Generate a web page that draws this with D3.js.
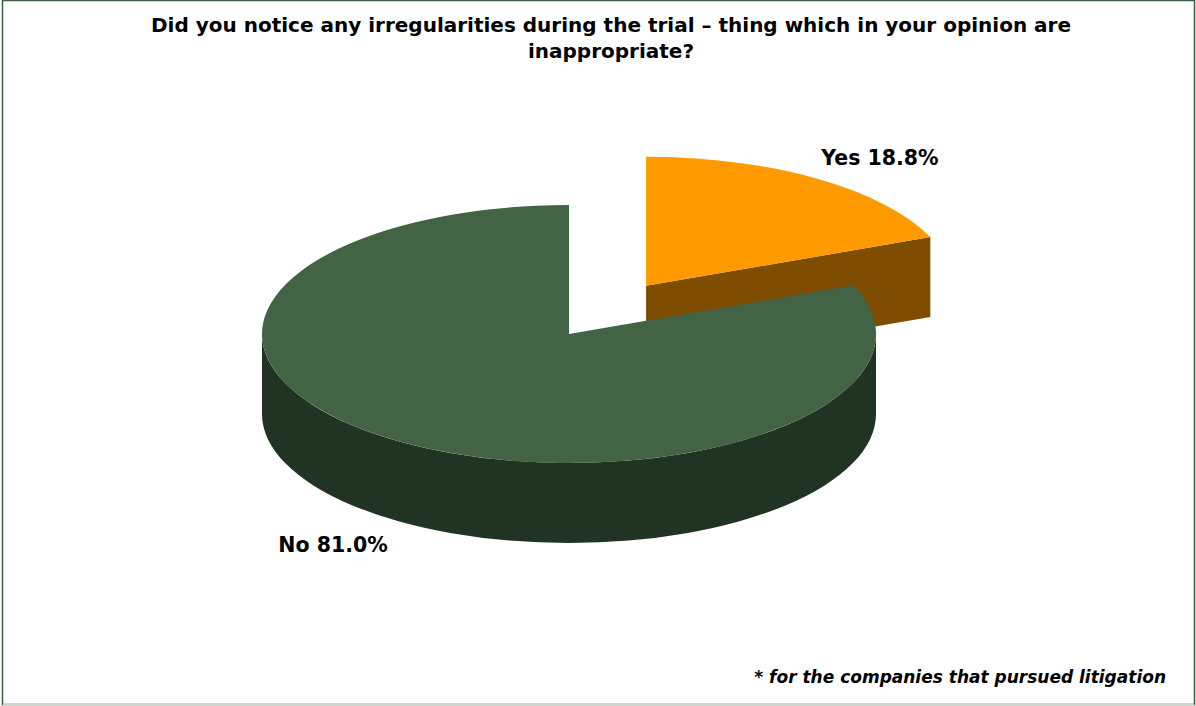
<!DOCTYPE html>
<html>
<head>
<meta charset="utf-8">
<script src="https://cdn.jsdelivr.net/npm/d3@7"></script>
<style>
  body { margin: 0; background: #fff; }
  text { font-family: Verdana, "DejaVu Sans", sans-serif; font-weight: bold; fill: #000; }
</style>
</head>
<body>
<script>
// chart data
var categories = ["Yes", "No"];
var values = [18.8, 81.0];
var topColors = ["#ff9a00", "#426344"];
var sideColors = ["#7f4d00", "#213323"];
var explode = [0.45, 0];

var W = 1196, H = 706;
var cx = 569, cy = 334, rx = 307, ry = 129, depth = 80;

var svg = d3.select("body").append("svg")
    .attr("width", W)
    .attr("height", H);

// frame
svg.append("rect")
    .attr("x", 2.5).attr("y", 0.5)
    .attr("width", 1192).attr("height", 704)
    .attr("fill", "#fff")
    .attr("stroke", "#3b5e3f")
    .attr("stroke-width", 1.5);
svg.append("line")
    .attr("x1", 3).attr("x2", 1194).attr("y1", 704.5).attr("y2", 704.5)
    .attr("stroke", "#d4d4d4");

var title = svg.append("text")
    .attr("text-anchor", "middle")
    .style("font-size", "20px");
title.append("tspan").attr("x", 611).attr("y", 32)
    .text("Did you notice any irregularities during the trial \u2013 thing which in your opinion are");
title.append("tspan").attr("x", 611).attr("y", 58)
    .text("inappropriate?");

var pie = d3.pie().sort(null).value(function(d){ return d; });
var arcs = pie(values);

function pt(a, ox, oy) {
  return [cx + ox + rx * Math.sin(a), cy + oy - ry * Math.cos(a)];
}

function cutFace(g, a, ox, oy, fill) {
  var p = d3.path();
  var q = pt(a, ox, oy);
  p.moveTo(cx + ox, cy + oy);
  p.lineTo(q[0], q[1]);
  p.lineTo(q[0], q[1] + depth);
  p.lineTo(cx + ox, cy + oy + depth);
  p.closePath();
  g.append("path").attr("d", p.toString()).attr("fill", fill);
}

arcs.forEach(function(d, i) {
  var mid = (d.startAngle + d.endAngle) / 2;
  var ox = explode[i] * rx * Math.sin(mid);
  var oy = -explode[i] * ry * Math.cos(mid);
  var a0 = d.startAngle, a1 = d.endAngle;
  var g = svg.append("g");

  // cut faces that face the viewer
  if (Math.sin(a0) < -1e-6) cutFace(g, a0, ox, oy, sideColors[i]);
  if (Math.sin(a1) > 1e-6) cutFace(g, a1, ox, oy, sideColors[i]);

  // outer wall, front half only
  var s = Math.max(a0, Math.PI / 2), t = Math.min(a1, 3 * Math.PI / 2);
  if (t > s) {
    var p1 = pt(s, ox, oy), p2 = pt(t, ox, oy);
    var w = "M" + p1[0] + "," + p1[1] +
      "A" + rx + "," + ry + " 0 0 1 " + p2[0] + "," + p2[1] +
      "L" + p2[0] + "," + (p2[1] + depth) +
      "A" + rx + "," + ry + " 0 0 0 " + p1[0] + "," + (p1[1] + depth) + "Z";
    g.append("path").attr("d", w).attr("fill", sideColors[i]);
  }

  // top face
  var b0 = pt(a0, ox, oy), b1 = pt(a1, ox, oy);
  var large = (a1 - a0) > Math.PI ? 1 : 0;
  var top = "M" + (cx + ox) + "," + (cy + oy) + "L" + b0[0] + "," + b0[1] +
    "A" + rx + "," + ry + " 0 " + large + " 1 " + b1[0] + "," + b1[1] + "Z";
  g.append("path").attr("d", top).attr("fill", topColors[i]);
});

// labels
var labelPos = [[880, 165], [333, 552]];
arcs.forEach(function(d, i) {
  svg.append("text")
      .attr("x", labelPos[i][0]).attr("y", labelPos[i][1])
      .attr("text-anchor", "middle")
      .style("font-size", "20.5px")
      .text(categories[i] + " " + d3.format(".1f")(values[i]) + "%");
});

svg.append("text")
    .attr("x", 1166).attr("y", 683)
    .attr("text-anchor", "end")
    .style("font-size", "17px")
    .style("font-style", "italic")
    .text("* for the companies that pursued litigation");
</script>
</body>
</html>
